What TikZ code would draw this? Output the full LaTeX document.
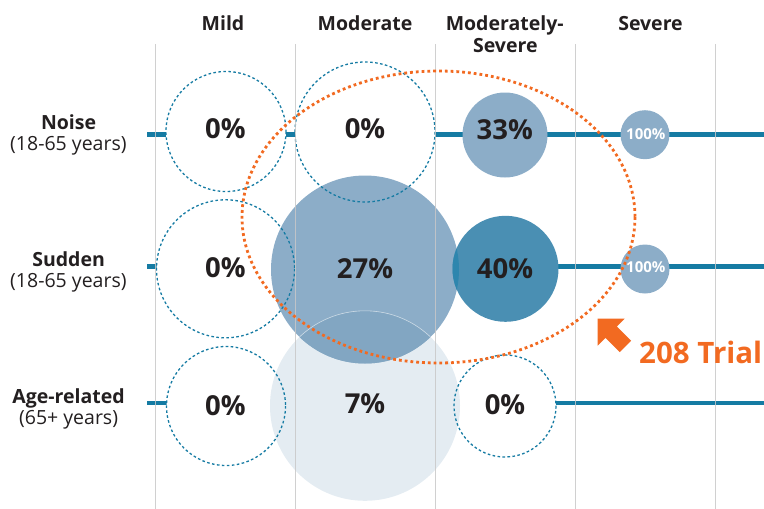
\documentclass[tikz,border=0pt]{standalone}
\usepackage{fontspec}
\setmainfont{Open Sans}
\definecolor{textdark}{HTML}{231F20}
\definecolor{gridgray}{HTML}{C8C8C8}
\definecolor{teal1}{HTML}{157BA3}
\definecolor{midblue}{HTML}{8CADC8}
\definecolor{darkblue}{HTML}{4A8FB3}
\definecolor{lightblue}{HTML}{E4ECF2}
\definecolor{ovlA}{HTML}{82A6C2}
\definecolor{ovlB}{HTML}{2E86AE}
\definecolor{orange1}{HTML}{F26A21}
\begin{document}
\begin{tikzpicture}[x=1pt,y=-1pt,
  gridline/.style={draw=gridgray,line width=1pt,opacity=0.85},
  rowline/.style={draw=teal1,line width=4.3pt},
  zerofill/.style={circle,fill=white,inner sep=0pt},
  zerodash/.style={draw=teal1,line width=1.3pt,dash pattern=on 2.6pt off 2.4pt},
  bub/.style={circle,inner sep=0pt},
  pct/.style={anchor=base,inner sep=0pt,text=textdark,font=\fontsize{27.5}{30}\selectfont\bfseries},
  small/.style={anchor=base,inner sep=0pt,text=white,font=\fontsize{15}{16}\selectfont\bfseries},
  head/.style={anchor=base,inner sep=0pt,text=textdark,font=\fontsize{19.5}{22}\selectfont\bfseries},
  rowname/.style={anchor=base,inner sep=0pt,text=textdark,font=\fontsize{19.5}{22}\selectfont\bfseries},
  rowsub/.style={anchor=base,inner sep=0pt,text=textdark,font=\fontsize{19.5}{22}\selectfont},
  trial/.style={draw=orange1,line width=2.8pt,dash pattern=on 2.8pt off 3pt},
]
\useasboundingbox (0,0) rectangle (764,509);

% row lines
\coordinate (r1a) at (147,134.5); \coordinate (r1b) at (764,134.5);
\coordinate (r2a) at (147,266.5); \coordinate (r2b) at (764,266.5);
\coordinate (r3a) at (147,403);   \coordinate (r3b) at (764,403);
\draw[rowline] (r1a) -- (r1b);
\draw[rowline] (r2a) -- (r2b);
\draw[rowline] (r3a) -- (r3b);

% white fills of the empty (0%) circles
\node[zerofill,minimum size=120pt] (z11) at (226,131.5) {};
\node[zerofill,minimum size=140pt] (z12) at (365,132) {};
\node[zerofill,minimum size=138pt] (z21) at (225.5,268.8) {};
\node[zerofill,minimum size=119pt] (z31) at (226,406) {};
\node[zerofill,minimum size=102pt] (z33) at (505,406) {};

% filled bubbles
\node[bub,fill=lightblue,minimum size=190pt] (b32) at (365,405.8) {};
\node[bub,fill=midblue,minimum size=188pt] (b22) at (365,269.5) {};
\begin{scope}
  \clip (b22.center) circle (94);
  \fill[ovlA] (b32.center) circle (95);
  \draw[white,line width=0.6pt,opacity=0.6] (b32.center) circle (95);
\end{scope}
\node[bub,fill=darkblue,minimum size=106pt] (b23) at (505.5,268.8) {};
\begin{scope}
  \clip (b23.center) circle (53);
  \fill[ovlB] (b22.center) circle (94);
\end{scope}
\node[bub,fill=midblue,minimum size=85pt] (b13) at (505,135) {};
\node[bub,fill=midblue,minimum size=49pt] (b14) at (645,134.7) {};
\node[bub,fill=midblue,minimum size=49pt] (b24) at (645,269) {};

% dashed outlines of the empty circles
\draw[zerodash] (z11.center) circle (60);
\draw[zerodash] (z12.center) circle (70);
\draw[zerodash] (z21.center) circle (69);
\draw[zerodash] (z31.center) circle (59.5);
\draw[zerodash] (z33.center) circle (51);

% grid lines
\coordinate (g1a) at (155.5,44); \coordinate (g1b) at (155.5,509);
\coordinate (g2a) at (295.5,44); \coordinate (g2b) at (295.5,509);
\coordinate (g3a) at (435.3,44); \coordinate (g3b) at (435.3,509);
\coordinate (g4a) at (575.3,44); \coordinate (g4b) at (575.3,509);
\coordinate (g5a) at (715.3,44); \coordinate (g5b) at (715.3,509);
\foreach \g in {1,...,5} \draw[gridline] (g\g a) -- (g\g b);

% headers
\node[head] (h1) at (223,30.7) {Mild};
\node[head] (h2) at (365,30.7) {Moderate};
\node[head] (h3a) at (504.7,30.7) {Moderately-};
\node[head] (h3b) at (505.3,52.3) {Severe};
\node[head] (h4) at (650.5,30.7) {Severe};

% row names
\node[rowname] (n1) at (68.6,129.3) {Noise};
\node[rowsub] (s1) at (68.4,150) {(18-65 years)};
\node[rowname] (n2) at (68.6,266.7) {Sudden};
\node[rowsub] (s2) at (68.4,287.3) {(18-65 years)};
\node[rowname] (n3) at (68.6,403.3) {Age-related};
\node[rowsub] (s3) at (68.6,424) {(65+ years)};

% percentages
\node[pct] (p11) at (225.3,138.3) {0\%};
\node[pct] (p12) at (365,138.3) {0\%};
\node[pct] (p13) at (504.7,139) {33\%};
\node[small] (p14) at (645.8,139.3) {100\%};
\node[pct] (p21) at (225.3,277.3) {0\%};
\node[pct] (p22) at (365,278) {27\%};
\node[pct] (p23) at (505,278.3) {40\%};
\node[small] (p24) at (645.8,272.7) {100\%};
\node[pct] (p31) at (225.3,415) {0\%};
\node[pct] (p32) at (365,413) {7\%};
\node[pct] (p33) at (505,414.3) {0\%};

% 208 trial ellipse, arrow, label
\coordinate (ec) at (438.5,217);
\draw[trial] (ec) ellipse (196.5 and 146);
\fill[orange1] (597.5,318.5) -- (624.7,318.6) -- (616.8,326.5) -- (631.1,340.7)
  -- (619.7,352.1) -- (605.5,337.8) -- (597.6,345.7) -- cycle;
\node[anchor=base west,inner sep=0pt,text=orange1,font=\fontsize{29.5}{32}\selectfont\bfseries] (tr) at (639,363.3) {208 Trial};
\end{tikzpicture}
\end{document}
